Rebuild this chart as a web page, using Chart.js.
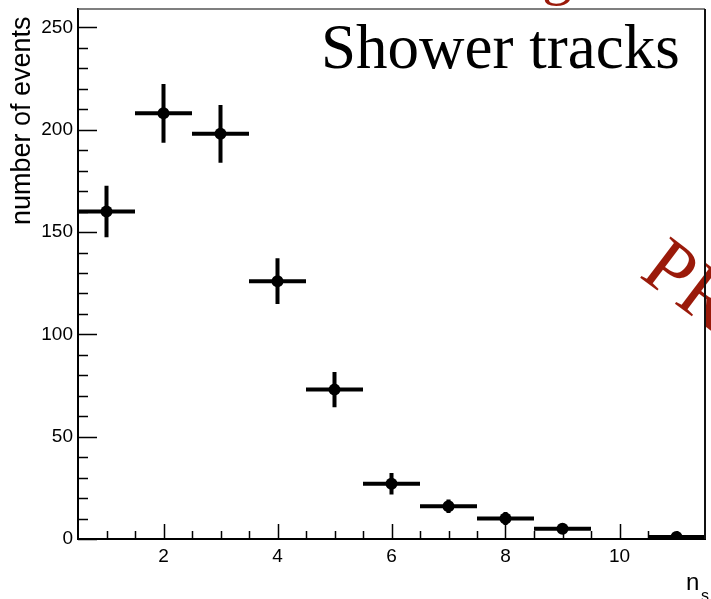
<!DOCTYPE html>
<html>
<head>
<meta charset="utf-8">
<script src="https://cdn.jsdelivr.net/npm/chart.js@4.4.1/dist/chart.umd.min.js"></script>
<style>
  html, body { margin: 0; padding: 0; background: #fff; }
  #wrap { width: 711px; height: 599px; }
</style>
</head>
<body>
<div id="wrap"><canvas id="nsChart"></canvas></div>
<script>
// number of shower tracks per event (n_s), one bin per multiplicity
var bins = [1, 2, 3, 4, 5, 6, 7, 8, 9, 10, 11];
var counts = [160, 208, 198, 126, 73, 27, 16, 10, 5, null, 1];
var errors = [12.6, 14.4, 14.1, 11.2, 8.6, 5.2, 3.3, 3.2, 2.2, null, 1.0];
var binWidth = 1;
var xTicks = [2, 4, 6, 8, 10];
var yTicks = [0, 50, 100, 150, 200, 250];

var points = bins.map(function (b, i) { return { x: b, y: counts[i] }; });

// ROOT-like frame: error crosses under the markers, inward ticks, overlay texts
var rootFrame = {
    id: 'rootFrame',
    beforeDatasetsDraw: function (chart) {
        var ctx = chart.ctx, xs = chart.scales.x, ys = chart.scales.y;
        ctx.save();
        ctx.strokeStyle = '#000';
        ctx.lineWidth = 4;
        ctx.lineCap = 'butt';
        for (var i = 0; i < bins.length; i++) {
            if (counts[i] === null) continue;
            var px = xs.getPixelForValue(bins[i]);
            var py = ys.getPixelForValue(counts[i]);
            ctx.beginPath();
            ctx.moveTo(xs.getPixelForValue(bins[i] - binWidth / 2), py);
            ctx.lineTo(xs.getPixelForValue(bins[i] + binWidth / 2), py);
            ctx.moveTo(px, ys.getPixelForValue(counts[i] + errors[i]));
            ctx.lineTo(px, ys.getPixelForValue(counts[i] - errors[i]));
            ctx.stroke();
        }
        ctx.restore();
    },
    afterDraw: function (chart) {
        var ctx = chart.ctx, xs = chart.scales.x, ys = chart.scales.y;
        var a = chart.chartArea;
        ctx.save();

        // watermark behind the frame
        ctx.save();
        ctx.fillStyle = '#9a1a0a';
        ctx.font = '78px "Liberation Serif", "Times New Roman", serif';
        ctx.translate(638, 276);
        ctx.rotate(37 * Math.PI / 180);
        ctx.fillText('PRELIMINARY', 0, 0);
        ctx.restore();
        ctx.fillStyle = '#9a1a0a';
        ctx.font = '60px "Liberation Serif", "Times New Roman", serif';
        ctx.fillText('g', 542, -7);

        // inward ticks
        ctx.strokeStyle = '#000';
        ctx.lineWidth = 1.5;
        ctx.beginPath();
        for (var v = 0; v <= 250; v += 10) {
            var y = Math.round(ys.getPixelForValue(v)) + 0.5;
            var len = (v % 50 === 0) ? 19 : 10;
            ctx.moveTo(a.left, y);
            ctx.lineTo(a.left + len, y);
        }
        for (var t = 1; t <= 11; t += 0.5) {
            var x = Math.round(xs.getPixelForValue(t)) + 0.5;
            var l = (xTicks.indexOf(t) >= 0) ? 15 : 8;
            ctx.moveTo(x, a.bottom);
            ctx.lineTo(x, a.bottom - l);
        }
        ctx.stroke();

        // top and right frame lines
        ctx.lineWidth = 1.5;
        ctx.strokeStyle = '#555';
        ctx.beginPath();
        ctx.moveTo(a.left, a.top);
        ctx.lineTo(a.right, a.top);
        ctx.stroke();
        ctx.strokeStyle = '#111';
        ctx.lineWidth = 2;
        ctx.beginPath();
        ctx.moveTo(a.right, a.top);
        ctx.lineTo(a.right, a.bottom);
        ctx.stroke();

        // x axis title n_s
        ctx.fillStyle = '#000';
        ctx.textBaseline = 'alphabetic';
        ctx.font = '24px "Liberation Sans", Arial, sans-serif';
        ctx.fillText('n', 686, 590);
        ctx.font = '16px "Liberation Sans", Arial, sans-serif';
        ctx.fillText('s', 701, 601);

        // label
        ctx.font = '63px "Liberation Serif", "Times New Roman", serif';
        ctx.fillText('Shower tracks', 321, 68);
        ctx.restore();
    }
};

var tickFont = { family: '"Liberation Sans", Arial, sans-serif', size: 19 };

new Chart(document.getElementById('nsChart'), {
    type: 'scatter',
    data: {
        datasets: [{
            data: points,
            pointRadius: 6,
            pointHoverRadius: 6,
            backgroundColor: '#000',
            borderColor: '#000',
            borderWidth: 0
        }]
    },
    options: {
        responsive: true,
        maintainAspectRatio: false,
        animation: false,
        events: [],
        layout: { padding: { top: 9, right: 2, left: 0, bottom: 0 } },
        plugins: { legend: { display: false }, tooltip: { enabled: false } },
        scales: {
            x: {
                type: 'linear',
                min: 0.5,
                max: 11.5,
                grid: { display: false, drawTicks: false },
                border: { color: '#000', width: 2 },
                ticks: { font: tickFont, color: '#000', padding: 6 },
                afterBuildTicks: function (s) { s.ticks = xTicks.map(function (v) { return { value: v }; }); },
                afterFit: function (s) { s.height = 60; s.paddingLeft = 0; s.paddingRight = 0; }
            },
            y: {
                min: 0,
                max: 259,
                grid: { display: false, drawTicks: false },
                border: { color: '#000', width: 2 },
                ticks: { font: tickFont, color: '#000', padding: 5 },
                afterBuildTicks: function (s) { s.ticks = yTicks.map(function (v) { return { value: v }; }); },
                afterFit: function (s) { s.width = 78; s.paddingTop = 0; s.paddingBottom = 0; },
                title: {
                    display: true,
                    text: 'number of events ',
                    align: 'end',
                    color: '#000',
                    font: { family: '"Liberation Sans", Arial, sans-serif', size: 27 },
                    padding: { top: 6, bottom: 0 }
                }
            }
        }
    },
    plugins: [rootFrame]
});
</script>
</body>
</html>
